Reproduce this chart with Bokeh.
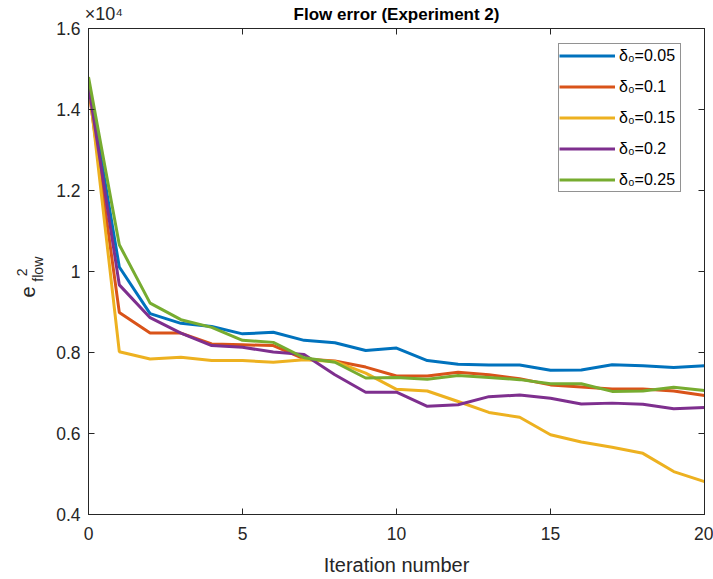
import numpy as np
from bokeh.plotting import figure
from bokeh.models import (Range1d, LinearAxis, FixedTicker, CustomJSTickFormatter,
                          Label, Legend, LegendItem)
from bokeh.embed import file_html
from bokeh.resources import INLINE

iterations = list(range(21))
labels = ["δ₀=0.05", "δ₀=0.1", "δ₀=0.15", "δ₀=0.2", "δ₀=0.25"]
colors = ["#0072BD", "#D95319", "#EDB120", "#7E2F8E", "#77AC30"]

err_005 = [14650, 10110, 8960, 8720, 8640, 8460, 8500, 8300, 8240, 8050, 8110,
           7800, 7710, 7690, 7690, 7560, 7570, 7700, 7670, 7630, 7670]
err_010 = [14550, 8990, 8480, 8480, 8210, 8190, 8170, 7840, 7790, 7640, 7420,
           7420, 7510, 7450, 7350, 7200, 7150, 7100, 7100, 7050, 6940]
err_015 = [14700, 8020, 7840, 7880, 7800, 7800, 7760, 7820, 7780, 7490, 7090,
           7050, 6790, 6520, 6400, 5970, 5790, 5660, 5510, 5060, 4810]
err_020 = [14600, 9670, 8860, 8480, 8170, 8130, 8010, 7950, 7450, 7020, 7020,
           6670, 6710, 6910, 6950, 6870, 6730, 6750, 6720, 6610, 6640]
err_025 = [14800, 10660, 9220, 8810, 8620, 8300, 8250, 7870, 7760, 7370, 7380,
           7340, 7430, 7380, 7330, 7230, 7230, 7040, 7050, 7140, 7060]
series = [err_005, err_010, err_015, err_020, err_025]

x_ticks = [0, 5, 10, 15, 20]
y_ticks = [4000, 6000, 8000, 10000, 12000, 14000, 16000]
title_text = "Flow error (Experiment 2)"
exponent_text = "×10⁴"

TXT = "#262626"
FONT = "Liberation Sans"

p = figure(frame_width=616, frame_height=486, output_backend="svg",
           toolbar_location=None, x_range=Range1d(0, 20), y_range=Range1d(4000, 16000),
           min_border_left=88, min_border_right=9, min_border_top=28, min_border_bottom=65)
p.background_fill_color = "white"
p.border_fill_color = "white"
p.outline_line_color = TXT
p.outline_line_width = 1
p.xgrid.visible = False
p.ygrid.visible = False

items = []
for s, lab, c in zip(series, labels, colors):
    r = p.line(iterations, s, line_color=c, line_width=3)
    items.append(LegendItem(label=lab, renderers=[r]))

yfmt = CustomJSTickFormatter(code="return String(Math.round(tick/1000)/10);")

for ax in p.xaxis:
    ax.ticker = FixedTicker(ticks=x_ticks)
for ax in p.yaxis:
    ax.ticker = FixedTicker(ticks=y_ticks)
    ax.formatter = yfmt

for ax in list(p.xaxis) + list(p.yaxis):
    ax.major_tick_in = 6
    ax.major_tick_out = 0
    ax.minor_tick_line_color = None
    ax.axis_line_color = TXT
    ax.major_tick_line_color = TXT
    ax.major_label_text_color = TXT
    ax.major_label_text_font = FONT
    ax.major_label_text_font_size = "17.5px"

p.xaxis.major_label_standoff = 12
p.yaxis.major_label_standoff = 8
p.xaxis.axis_label = "Iteration number"
p.xaxis.axis_label_text_font = FONT
p.xaxis.axis_label_text_font_style = "normal"
p.xaxis.axis_label_text_font_size = "20px"
p.xaxis.axis_label_text_color = TXT
p.xaxis.axis_label_standoff = 11

# top axis: inward ticks (as minor ticks), the x10^4 exponent as its one label,
# and the title as its axis label
top = LinearAxis(ticker=FixedTicker(ticks=[0.5], minor_ticks=x_ticks),
                 formatter=CustomJSTickFormatter(args=dict(t=exponent_text), code="return t;"),
                 major_tick_in=0, major_tick_out=0, major_tick_line_color=None,
                 minor_tick_in=6, minor_tick_out=0, minor_tick_line_color=TXT,
                 axis_line_color=TXT, major_label_standoff=5,
                 major_label_text_font=FONT, major_label_text_font_size="18px",
                 major_label_text_color=TXT,
                 axis_label=title_text, axis_label_standoff=-23,
                 axis_label_text_font=FONT, axis_label_text_font_size="17px",
                 axis_label_text_font_style="bold", axis_label_text_color="black")
p.add_layout(top, "above")

blank = CustomJSTickFormatter(code="return '';")
right = LinearAxis(ticker=FixedTicker(ticks=y_ticks), formatter=blank,
                   major_tick_in=6, major_tick_out=0, minor_tick_line_color=None,
                   axis_line_color=TXT, major_tick_line_color=TXT,
                   major_label_standoff=0, major_label_text_font_size="1px")
p.add_layout(right, "right")

def dlabel(x, y, text, size):
    return Label(x=x, y=y, text=text, angle=np.pi / 2,
                 text_align="left", text_baseline="alphabetic", text_font=FONT,
                 text_font_size=size, text_color=TXT)

# y label e^2_flow, rotated, in the left panel (positions in data units)
p.add_layout(dlabel(-1.97, 9360, "e", "20px"), "left")
p.add_layout(dlabel(-2.16, 9880, "2", "14px"), "left")
p.add_layout(dlabel(-1.64, 9750, "flow", "14px"), "left")

legend = Legend(items=items, location=(470, 322))
legend.margin = 0
legend.glyph_width = 56
legend.glyph_height = 23
legend.label_height = 23
legend.label_width = 61
legend.label_standoff = 4
legend.spacing = 8
legend.padding = 0
legend.label_text_font = FONT
legend.label_text_font_size = "16px"
legend.label_text_color = "black"
legend.border_line_color = TXT
legend.border_line_width = 1
legend.background_fill_alpha = 1
p.add_layout(legend, "center")

open("out.html", "w").write(file_html(p, INLINE))
